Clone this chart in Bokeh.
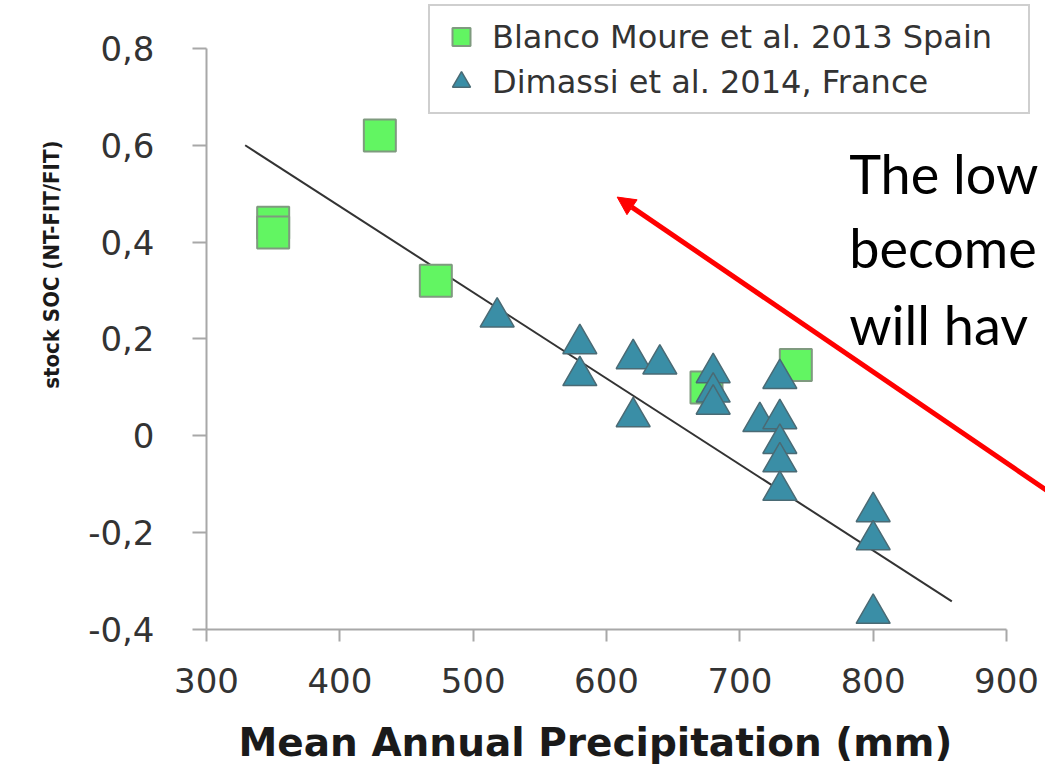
from bokeh.plotting import figure
from bokeh.models import (Range1d, FixedTicker, Legend, LegendItem, Arrow,
                          NormalHead, Label, Title)
from bokeh.embed import file_html
from bokeh.resources import INLINE

# ---- data ----
spain_name = "Blanco Moure et al. 2013 Spain"
spain_precip = [350, 350, 430, 472, 675, 742]
spain_soc = [0.44, 0.42, 0.62, 0.32, 0.10, 0.146]

france_name = "Dimassi et al. 2014, France"
france_precip = [518, 580, 580, 620, 620, 640, 680, 680, 680, 715,
                 730, 730, 730, 730, 730, 800, 800, 800]
france_soc = [0.245, 0.19, 0.124, 0.159, 0.039, 0.148, 0.13, 0.09, 0.065, 0.029,
              0.118, 0.035, -0.016, -0.054, -0.113, -0.157, -0.215, -0.367]

trend_x = [329, 859]
trend_slope = -0.001777
trend_intercept = 1.1847

y_ticks = [-0.4, -0.2, 0.0, 0.2, 0.4, 0.6, 0.8]
y_tick_labels = ["-0,4", "-0,2", "0", "0,2", "0,4", "0,6", "0,8"]
x_ticks = [300, 400, 500, 600, 700, 800, 900]

x_title = "Mean Annual Precipitation (mm)"
y_title = "stock SOC (NT-FIT/FIT)"

arrow_from = (950, -0.15)
arrow_to = (608, 0.493)

note_lines = ["The low", "become", "will hav"]
note_x = 782
note_y = [0.542, 0.388, 0.229]

# ---- figure ----
# the plotting area runs to the right and top edges of the page so that the
# legend, arrow and slide text are not clipped; the axes keep their bounds.
p = figure(width=1045, height=768, output_backend="svg", toolbar_location=None,
           x_range=Range1d(300, 929.25), y_range=Range1d(-0.4, 0.899),
           min_border_left=206, min_border_right=0, min_border_top=0,
           min_border_bottom=138)
p.outline_line_color = None
p.grid.visible = False
p.background_fill_color = "white"
p.border_fill_color = "white"

tick_font = "DejaVu Sans"

xa = p.xaxis[0]
xa.bounds = (300, 900)
xa.ticker = FixedTicker(ticks=x_ticks)
xa.axis_label = " "
xa.axis_label_text_font_size = "1px"
xa.axis_label_standoff = 18
xa.major_label_text_font = tick_font
xa.major_label_text_font_size = "34px"
xa.major_label_text_color = "#333333"
xa.major_label_standoff = 26
xa.major_tick_out = 12
xa.major_tick_in = 0
xa.minor_tick_out = 0
xa.minor_tick_in = 0
xa.axis_line_color = "#a8a8a8"
xa.axis_line_width = 2
xa.major_tick_line_color = "#a8a8a8"
xa.major_tick_line_width = 2

ya = p.yaxis[0]
ya.bounds = (-0.4, 0.8)
ya.ticker = FixedTicker(ticks=y_ticks)
ya.major_label_overrides = {t: l for t, l in zip(y_ticks, y_tick_labels)}
ya.major_label_text_font = tick_font
ya.major_label_text_font_size = "34px"
ya.major_label_text_color = "#333333"
ya.major_label_standoff = 38
ya.major_tick_out = 14
ya.major_tick_in = 0
ya.minor_tick_out = 0
ya.minor_tick_in = 0
ya.axis_line_color = "#a8a8a8"
ya.axis_line_width = 2
ya.major_tick_line_color = "#a8a8a8"
ya.major_tick_line_width = 2

# axis titles as side titles, so they can be placed like the original
p.add_layout(Title(text=x_title, align="left", offset=32,
                   text_font="DejaVu Sans", text_font_style="bold",
                   text_font_size="39px", text_color="#1a1a1a",
                   vertical_align="top", standoff=4), "below")
p.add_layout(Title(text=y_title, align="right", offset=140,
                   text_font="'DejaVu Sans Condensed', Roboto, sans-serif",
                   text_font_style="bold", text_font_size="22px",
                   text_color="#1a1a1a", standoff=44), "left")

# trend line
trend_y = [trend_intercept + trend_slope * x for x in trend_x]
p.line(trend_x, trend_y, line_color="#333333", line_width=2)

# points
r_sp = p.scatter(spain_precip, spain_soc, marker="square", size=32,
                 fill_color="#62f562", line_color="#7f9a7f", line_width=2)
r_fr = p.scatter(france_precip, france_soc, marker="triangle", size=34,
                 fill_color="#3a8ea6", line_color="#4a6a74", line_width=1.5)

legend = Legend(items=[LegendItem(label=spain_name, renderers=[r_sp]),
                       LegendItem(label=france_name, renderers=[r_fr])],
                location=(222, 515), orientation="vertical",
                label_text_font="DejaVu Sans", label_text_font_size="32px",
                label_text_color="#333333", glyph_width=46, glyph_height=45,
                label_standoff=8, label_width=528, padding=8, spacing=0,
                margin=0, border_line_color="#a0a0a0", border_line_width=2,
                background_fill_color="white", background_fill_alpha=1)
p.add_layout(legend)

# red arrow
p.add_layout(Arrow(x_start=arrow_from[0], y_start=arrow_from[1],
                   x_end=arrow_to[0], y_end=arrow_to[1],
                   line_color="#ff0000", line_width=5,
                   end=NormalHead(size=18, fill_color="#ff0000", line_color="#ff0000")))

# slide text at the right
for txt, yy in zip(note_lines, note_y):
    p.add_layout(Label(x=note_x, y=yy, text=txt, text_font="Lato",
                       text_font_size="54px", text_color="#000000",
                       text_baseline="alphabetic", text_align="left"))

open("out.html", "w").write(file_html(p, INLINE))
